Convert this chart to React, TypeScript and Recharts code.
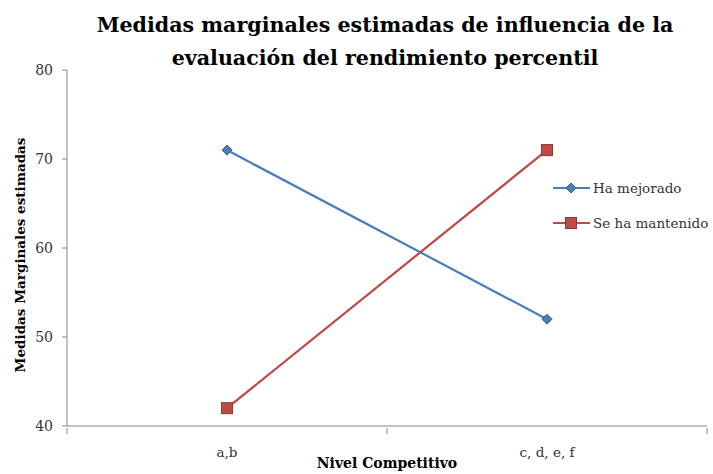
import { LineChart, Line, XAxis, YAxis } from 'recharts';

const categories = ['a,b', 'c, d, e, f'];
const haMejorado = [71, 52];
const seHaMantenido = [42, 71];
const yTicks = [40, 50, 60, 70, 80];
const xTicks = [0, 0.5, 1, 1.5, 2];

const data = categories.map((name, i) => ({
    x: i + 0.5,
    name,
    mejorado: haMejorado[i],
    mantenido: seHaMantenido[i],
}));

const BLUE = '#4A7EBB';
const RED = '#BE4B48';
const AXIS = '#868686';
const FONT = '"DejaVu Serif", "Liberation Serif", serif';

const Diamond = (props: any) => {
    const { cx, cy } = props;
    if (cx == null || cy == null) return null;
    const r = 5;
    return (
        <path
            d={`M${cx},${cy - r}L${cx + r},${cy}L${cx},${cy + r}L${cx - r},${cy}Z`}
            fill={BLUE}
            stroke="#385D8A"
            strokeWidth={1}
        />
    );
};

const Square = (props: any) => {
    const { cx, cy } = props;
    if (cx == null || cy == null) return null;
    const s = 5.5;
    return <rect x={cx - s} y={cy - s} width={s * 2} height={s * 2} fill={RED} stroke="#8C3836" strokeWidth={1} />;
};

const XTick = (props: any) => {
    const { x, y, payload } = props;
    const v = payload.value;
    if (Number.isInteger(v)) {
        return <line x1={x} x2={x} y1={y} y2={y + 6} stroke={AXIS} />;
    }
    const idx = Math.floor(v);
    return (
        <text x={x} y={y + 29} textAnchor="middle" fontSize={13.5} fill="#333" fontFamily={FONT}>
            {categories[idx]}
        </text>
    );
};

// leyenda superpuesta sobre el área del gráfico
const ChartLegend = () => (
    <svg width={160} height={60} style={{ position: 'absolute', left: 553, top: 178 }}>
        <line x1={0} x2={37} y1={10} y2={10} stroke={BLUE} strokeWidth={2} />
        <Diamond cx={18} cy={10} />
        <text x={40} y={15} fontSize={13.5} fill="#333" fontFamily={FONT}>
            Ha mejorado
        </text>
        <line x1={0} x2={37} y1={45} y2={45} stroke={RED} strokeWidth={2} />
        <Square cx={18} cy={45} />
        <text x={40} y={50} fontSize={13.5} fill="#333" fontFamily={FONT}>
            Se ha mantenido
        </text>
    </svg>
);

export default function App() {
    return (
        <div style={{ position: 'absolute', left: 0, top: 0, width: 713, height: 474, background: '#fff' }}>
            <div
                style={{
                    position: 'absolute',
                    left: 0,
                    top: 9,
                    width: 770,
                    textAlign: 'center',
                    fontFamily: FONT,
                    fontWeight: 'bold',
                    fontSize: 20.6,
                    lineHeight: '33px',
                    color: '#000',
                }}
            >
                Medidas marginales estimadas de influencia de la
                <br />
                evaluación del rendimiento percentil
            </div>
            <LineChart width={713} height={474} data={data} margin={{ top: 70, right: 6, bottom: 0, left: 0 }}>
                <XAxis
                    dataKey="x"
                    type="number"
                    domain={[0, 2]}
                    ticks={xTicks}
                    interval={0}
                    tick={<XTick />}
                    tickLine={false}
                    tickSize={0}
                    height={48}
                    stroke={AXIS}
                    label={{
                        content: (p: any) => (
                            <text
                                x={p.viewBox.x + p.viewBox.width / 2}
                                y={p.viewBox.y + 42}
                                textAnchor="middle"
                                fontSize={14}
                                fontWeight="bold"
                                fontFamily={FONT}
                                fill="#000"
                            >
                                Nivel Competitivo
                            </text>
                        ),
                    }}
                />
                <YAxis
                    domain={[40, 80]}
                    ticks={yTicks}
                    width={67}
                    tickSize={5}
                    tickMargin={9}
                    stroke={AXIS}
                    tick={{ fontSize: 14, fill: '#333', fontFamily: FONT }}
                    label={{
                        content: (p: any) => {
                            const cx = p.viewBox.x + 25;
                            const cy = p.viewBox.y + p.viewBox.height / 2 + 7;
                            return (
                                <text
                                    x={cx}
                                    y={cy}
                                    transform={`rotate(-90, ${cx}, ${cy})`}
                                    textAnchor="middle"
                                    fontSize={13.5}
                                    fontWeight="bold"
                                    fontFamily={FONT}
                                    fill="#000"
                                >
                                    Medidas Marginales estimadas
                                </text>
                            );
                        },
                    }}
                />
                <Line
                    dataKey="mejorado"
                    name="Ha mejorado"
                    stroke={BLUE}
                    strokeWidth={2.25}
                    dot={<Diamond />}
                    activeDot={false}
                    isAnimationActive={false}
                />
                <Line
                    dataKey="mantenido"
                    name="Se ha mantenido"
                    stroke={RED}
                    strokeWidth={2.25}
                    dot={<Square />}
                    activeDot={false}
                    isAnimationActive={false}
                />
            </LineChart>
            <ChartLegend />
        </div>
    );
}
